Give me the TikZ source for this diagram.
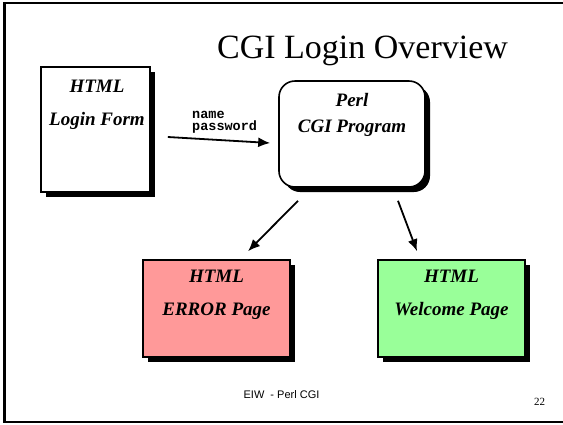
\documentclass[tikz,border=0pt]{standalone}
\usepackage{fontspec}
\setmainfont{Liberation Serif}
\setsansfont{Liberation Sans}
\setmonofont{Liberation Mono}
\usepackage{tikz}
\usetikzlibrary{shapes,arrows.meta,positioning,shadows}
\usepackage{xcolor}
\definecolor{errorred}{HTML}{FF9999}
\definecolor{okgreen}{HTML}{99FF99}

\tikzset{
    pagebox/.style={draw, line width=1.6pt, fill=white, inner sep=0pt,
        drop shadow={shadow xshift=5pt, shadow yshift=-5pt, fill=black, opacity=1}},
    boxtext/.style={font=\bfseries\itshape\fontsize{19}{33}\selectfont, align=center, anchor=base, inner sep=0pt},
    flow/.style={line width=1.8pt, -{Latex[length=12pt,width=10pt]}},
}

\begin{document}
\begin{tikzpicture}[x=1pt, y=-1pt]
        \useasboundingbox (0,0) rectangle (563,424);

        % Frame
        \draw[line width=2.5pt] (566,3) -- (4.5,3) -- (4.5,422) -- (566,422);

        % Title
        \node[anchor=base, inner sep=0pt, font=\fontsize{34}{36}\selectfont] (title) at (362.5,58) {CGI Login Overview};

        % Boxes
        \node[pagebox, minimum width=109pt, minimum height=125pt] (login) at (95.5,129.5) {};
        \node[pagebox, rounded corners=16pt, minimum width=146pt, minimum height=106pt] (perl) at (352,134) {};
        \node[pagebox, fill=errorred, minimum width=147pt, minimum height=97pt] (error) at (216.5,308.5) {};
        \node[pagebox, fill=okgreen, minimum width=147pt, minimum height=97pt] (welcome) at (451.5,308.5) {};

        % Box texts (base = last line)
        \node[boxtext] (logintxt) at (97,125) {HTML\\Login Form};
        \node[boxtext, font=\bfseries\itshape\fontsize{19}{26}\selectfont] (perltxt) at (352,132.5) {Perl\\CGI Program};
        \node[boxtext] (errortxt) at (216.5,315) {HTML\\ERROR Page};
        \node[boxtext] (welcometxt) at (451.5,315) {HTML\\Welcome Page};

        % Arrows
        \draw[flow] ([xshift=17pt, yshift=-7.5pt]login.east) -- ([xshift=-8pt, yshift=-9pt]perl.west);
        \draw[flow] ([xshift=-54pt, yshift=-13pt]perl.south) -- ([xshift=31.5pt, yshift=8pt]error.north);
        \draw[flow] ([xshift=46pt, yshift=-13pt]perl.south) -- ([xshift=-34.5pt, yshift=8pt]welcome.north);

        % Form fields
        \node[anchor=base west, inner sep=0pt, align=left, font=\ttfamily\bfseries\fontsize{13.5}{12}\selectfont] (fields) at (192,130) {name\\password};

        % Footer
        \node[anchor=base, inner sep=0pt, font=\sffamily\fontsize{11}{13}\selectfont] (footer) at (281.5,398) {EIW\ \ - Perl CGI};
        \node[anchor=base, inner sep=0pt, font=\fontsize{11}{13}\selectfont] (pagenum) at (539.5,405) {22};
    \end{tikzpicture}
\end{document}
